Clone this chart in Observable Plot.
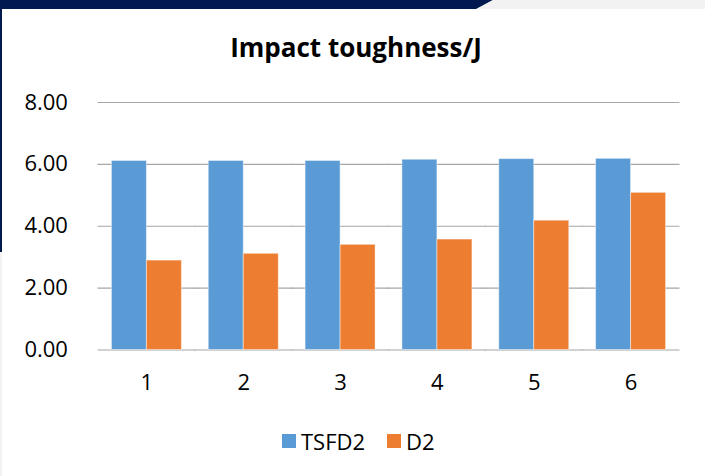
<!DOCTYPE html>
<html>
<head>
<meta charset="utf-8">
<script src="https://cdn.jsdelivr.net/npm/d3@7"></script>
<script src="https://cdn.jsdelivr.net/npm/@observablehq/plot@0.6"></script>
<style>
  html, body { margin: 0; padding: 0; background: #fff; }
  #wrap { position: relative; width: 705px; height: 476px; overflow: hidden; background: #fff; font-family: "Open Sans", sans-serif; }
  #topbar { position: absolute; left: 0; top: 0; width: 493px; height: 9px; background: #001a4f; clip-path: polygon(0 0, 100% 0, 477px 100%, 0 100%); }
  #topgray { position: absolute; left: 476px; top: 0; right: 0; height: 9px; background: #f2f2f2; clip-path: polygon(17px 0, 100% 0, 100% 100%, 0 100%); }
  #leftbar { position: absolute; left: 0; top: 0; width: 2px; height: 252px; background: #001a4f; }
  #leftgray { position: absolute; left: 0; top: 252px; width: 2px; bottom: 0; background: #f2f2f2; }
  #title { position: absolute; left: 0; width: 712px; top: 31px; text-align: center; font-weight: bold; font-size: 26px; color: #000; line-height: 1.3; }
  #legend { position: absolute; top: 426px; left: 282px; display: flex; align-items: center; font-size: 22px; color: #000; }
  #legend .sw { width: 14px; height: 14px; display: inline-block; margin-right: 5px; }
  #legend .item { display: flex; align-items: center; margin-right: 22px; }
  #chart { position: absolute; left: 0; top: 0; }
</style>
</head>
<body>
<div id="wrap">
  <div id="topbar"></div>
  <div id="topgray"></div>
  <div id="leftbar"></div>
  <div id="leftgray"></div>
  <div id="chart"></div>
  <div id="title">Impact toughness/J</div>
  <div id="legend"></div>
</div>
<script>
const categories = ["1", "2", "3", "4", "5", "6"];
const seriesNames = ["TSFD2", "D2"];
const tsfd2 = [6.11, 6.11, 6.11, 6.15, 6.17, 6.18];
const d2 = [2.89, 3.11, 3.40, 3.57, 4.18, 5.08];
const yTicks = [0, 2, 4, 6, 8];
const colors = ["#5b9bd5", "#ed7d31"];

const data = [];
categories.forEach((c, i) => {
  data.push({cat: c, series: seriesNames[0], value: tsfd2[i]});
  data.push({cat: c, series: seriesNames[1], value: d2[i]});
});

const plotW = 705 - 98 - 26;
const step = plotW / categories.length;
const gapHalf = step * 0.277 / 2;

const chart = Plot.plot({
  width: 705,
  height: 476,
  marginLeft: 98,
  marginRight: 26,
  marginTop: 102,
  marginBottom: 126.5,
  style: {fontFamily: "Open Sans, sans-serif", fontSize: "22px", color: "#000", background: "transparent"},
  fx: {domain: categories, paddingInner: 0.277, paddingOuter: 0.1385, round: false, label: null},
  x: {domain: seriesNames, padding: 0, round: false, axis: null},
  y: {domain: [0, 8], ticks: yTicks, label: null},
  color: {domain: seriesNames, range: colors},
  marks: [
    Plot.ruleY(yTicks, {stroke: "#a6a6a6", strokeWidth: 1.2, insetLeft: -gapHalf - 0.5, insetRight: -gapHalf - 0.5}),
    Plot.barY(data, {fx: "cat", x: "series", y: "value", fill: "series", stroke: "#ffffff", strokeOpacity: 0.45, strokeWidth: 1}),
    Plot.axisY(yTicks, {tickSize: 0, tickPadding: 44, tickFormat: d3.format(".2f"), label: null, fontSize: 22}),
    Plot.axisFx({anchor: "bottom", tickSize: 0, tickPadding: 24, label: null, fontSize: 22})
  ]
});
document.getElementById("chart").appendChild(chart);

const legend = document.getElementById("legend");
seriesNames.forEach((s, i) => {
  const it = document.createElement("span");
  it.className = "item";
  const sw = document.createElement("span");
  sw.className = "sw";
  sw.style.background = colors[i];
  it.appendChild(sw);
  it.appendChild(document.createTextNode(s));
  legend.appendChild(it);
});
</script>
</body>
</html>
